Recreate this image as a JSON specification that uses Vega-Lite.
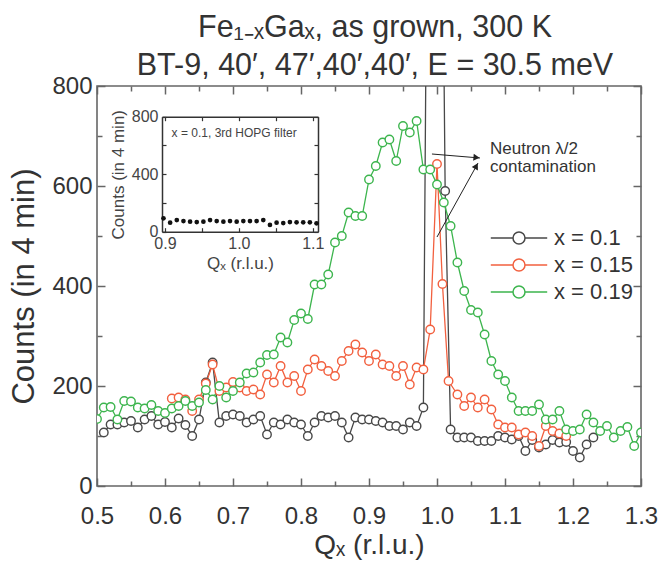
{
  "$schema": "https://vega.github.io/schema/vega-lite/v6.json",
  "width": 544,
  "height": 400,
  "autosize": {"type": "none"},
  "padding": {"left": 97, "top": 86, "right": 19, "bottom": 75},
  "background": "white",
  "config": {
    "view": {"stroke": "#666", "strokeWidth": 1.6},
    "font": "Liberation Sans",
    "axis": {"grid": false, "labelColor": "#333", "titleColor": "#333", "titleFontWeight": "normal", "tickColor": "#666", "domainColor": "#666", "labelFont": "Liberation Sans", "titleFont": "Liberation Sans"}
  },
  "title": {
    "text": ["Fe₁₋ₓGaₓ, as grown, 300 K", "BT-9, 40′, 47′,40′,40′, E = 30.5 meV"],
    "fontSize": 30.5,
    "fontWeight": "normal",
    "font": "Liberation Sans",
    "color": "#333",
    "anchor": "middle",
    "dx": 6,
    "offset": -7,
    "lineHeight": 38
  },
  "datasets": {
    "main": [
      {"q": 0.51, "c": 107, "s": "x = 0.1"}, {"q": 0.52, "c": 123, "s": "x = 0.1"}, {"q": 0.53, "c": 123, "s": "x = 0.1"}, {"q": 0.54, "c": 127, "s": "x = 0.1"}, {"q": 0.55, "c": 130, "s": "x = 0.1"}, {"q": 0.56, "c": 117, "s": "x = 0.1"}, {"q": 0.57, "c": 133, "s": "x = 0.1"}, {"q": 0.58, "c": 140, "s": "x = 0.1"}, {"q": 0.59, "c": 123, "s": "x = 0.1"}, {"q": 0.60, "c": 128, "s": "x = 0.1"},
      {"q": 0.61, "c": 117, "s": "x = 0.1"}, {"q": 0.62, "c": 135, "s": "x = 0.1"}, {"q": 0.63, "c": 122, "s": "x = 0.1"}, {"q": 0.64, "c": 100, "s": "x = 0.1"}, {"q": 0.65, "c": 133, "s": "x = 0.1"}, {"q": 0.66, "c": 207, "s": "x = 0.1"}, {"q": 0.67, "c": 247, "s": "x = 0.1"}, {"q": 0.68, "c": 127, "s": "x = 0.1"}, {"q": 0.69, "c": 140, "s": "x = 0.1"}, {"q": 0.70, "c": 143, "s": "x = 0.1"},
      {"q": 0.71, "c": 140, "s": "x = 0.1"}, {"q": 0.72, "c": 127, "s": "x = 0.1"}, {"q": 0.73, "c": 133, "s": "x = 0.1"}, {"q": 0.74, "c": 140, "s": "x = 0.1"}, {"q": 0.75, "c": 103, "s": "x = 0.1"}, {"q": 0.76, "c": 127, "s": "x = 0.1"}, {"q": 0.77, "c": 123, "s": "x = 0.1"}, {"q": 0.78, "c": 133, "s": "x = 0.1"}, {"q": 0.79, "c": 127, "s": "x = 0.1"}, {"q": 0.80, "c": 123, "s": "x = 0.1"},
      {"q": 0.81, "c": 100, "s": "x = 0.1"}, {"q": 0.82, "c": 127, "s": "x = 0.1"}, {"q": 0.83, "c": 140, "s": "x = 0.1"}, {"q": 0.84, "c": 137, "s": "x = 0.1"}, {"q": 0.85, "c": 140, "s": "x = 0.1"}, {"q": 0.86, "c": 127, "s": "x = 0.1"}, {"q": 0.87, "c": 97, "s": "x = 0.1"}, {"q": 0.88, "c": 137, "s": "x = 0.1"}, {"q": 0.89, "c": 133, "s": "x = 0.1"}, {"q": 0.90, "c": 133, "s": "x = 0.1"},
      {"q": 0.91, "c": 130, "s": "x = 0.1"}, {"q": 0.92, "c": 127, "s": "x = 0.1"}, {"q": 0.93, "c": 120, "s": "x = 0.1"}, {"q": 0.94, "c": 120, "s": "x = 0.1"}, {"q": 0.95, "c": 113, "s": "x = 0.1"}, {"q": 0.96, "c": 127, "s": "x = 0.1"}, {"q": 0.97, "c": 120, "s": "x = 0.1"}, {"q": 0.98, "c": 157, "s": "x = 0.1"}, {"q": 0.995, "c": 3000, "s": "x = 0.1"}, {"q": 1.012, "c": 590, "s": "x = 0.1"},
      {"q": 1.02, "c": 113, "s": "x = 0.1"}, {"q": 1.03, "c": 97, "s": "x = 0.1"}, {"q": 1.04, "c": 97, "s": "x = 0.1"}, {"q": 1.05, "c": 97, "s": "x = 0.1"}, {"q": 1.06, "c": 90, "s": "x = 0.1"}, {"q": 1.07, "c": 90, "s": "x = 0.1"}, {"q": 1.08, "c": 90, "s": "x = 0.1"}, {"q": 1.09, "c": 100, "s": "x = 0.1"}, {"q": 1.10, "c": 97, "s": "x = 0.1"}, {"q": 1.11, "c": 93, "s": "x = 0.1"},
      {"q": 1.12, "c": 100, "s": "x = 0.1"}, {"q": 1.13, "c": 70, "s": "x = 0.1"}, {"q": 1.14, "c": 92, "s": "x = 0.1"}, {"q": 1.15, "c": 77, "s": "x = 0.1"}, {"q": 1.16, "c": 83, "s": "x = 0.1"}, {"q": 1.17, "c": 92, "s": "x = 0.1"}, {"q": 1.18, "c": 87, "s": "x = 0.1"}, {"q": 1.19, "c": 88, "s": "x = 0.1"}, {"q": 1.20, "c": 70, "s": "x = 0.1"}, {"q": 1.21, "c": 57, "s": "x = 0.1"}, {"q": 1.22, "c": 83, "s": "x = 0.1"}, {"q": 1.23, "c": 97, "s": "x = 0.1"},

      {"q": 0.61, "c": 175, "s": "x = 0.15"}, {"q": 0.62, "c": 177, "s": "x = 0.15"}, {"q": 0.63, "c": 173, "s": "x = 0.15"}, {"q": 0.64, "c": 150, "s": "x = 0.15"}, {"q": 0.65, "c": 173, "s": "x = 0.15"}, {"q": 0.66, "c": 205, "s": "x = 0.15"}, {"q": 0.67, "c": 243, "s": "x = 0.15"}, {"q": 0.68, "c": 190, "s": "x = 0.15"}, {"q": 0.69, "c": 197, "s": "x = 0.15"}, {"q": 0.70, "c": 208, "s": "x = 0.15"},
      {"q": 0.71, "c": 197, "s": "x = 0.15"}, {"q": 0.72, "c": 190, "s": "x = 0.15"}, {"q": 0.73, "c": 193, "s": "x = 0.15"}, {"q": 0.74, "c": 183, "s": "x = 0.15"}, {"q": 0.75, "c": 223, "s": "x = 0.15"}, {"q": 0.76, "c": 207, "s": "x = 0.15"}, {"q": 0.77, "c": 240, "s": "x = 0.15"}, {"q": 0.78, "c": 207, "s": "x = 0.15"}, {"q": 0.79, "c": 220, "s": "x = 0.15"}, {"q": 0.80, "c": 190, "s": "x = 0.15"},
      {"q": 0.81, "c": 233, "s": "x = 0.15"}, {"q": 0.82, "c": 253, "s": "x = 0.15"}, {"q": 0.83, "c": 240, "s": "x = 0.15"}, {"q": 0.84, "c": 230, "s": "x = 0.15"}, {"q": 0.85, "c": 220, "s": "x = 0.15"}, {"q": 0.86, "c": 250, "s": "x = 0.15"}, {"q": 0.87, "c": 270, "s": "x = 0.15"}, {"q": 0.88, "c": 283, "s": "x = 0.15"}, {"q": 0.89, "c": 267, "s": "x = 0.15"}, {"q": 0.90, "c": 250, "s": "x = 0.15"},
      {"q": 0.91, "c": 263, "s": "x = 0.15"}, {"q": 0.92, "c": 243, "s": "x = 0.15"}, {"q": 0.93, "c": 240, "s": "x = 0.15"}, {"q": 0.94, "c": 220, "s": "x = 0.15"}, {"q": 0.95, "c": 240, "s": "x = 0.15"}, {"q": 0.96, "c": 203, "s": "x = 0.15"}, {"q": 0.97, "c": 237, "s": "x = 0.15"}, {"q": 0.98, "c": 233, "s": "x = 0.15"}, {"q": 0.99, "c": 313, "s": "x = 0.15"}, {"q": 1.00, "c": 644, "s": "x = 0.15"},
      {"q": 1.008, "c": 404, "s": "x = 0.15"}, {"q": 1.017, "c": 210, "s": "x = 0.15"}, {"q": 1.03, "c": 183, "s": "x = 0.15"}, {"q": 1.04, "c": 160, "s": "x = 0.15"}, {"q": 1.05, "c": 177, "s": "x = 0.15"}, {"q": 1.06, "c": 157, "s": "x = 0.15"}, {"q": 1.07, "c": 173, "s": "x = 0.15"}, {"q": 1.08, "c": 153, "s": "x = 0.15"}, {"q": 1.09, "c": 123, "s": "x = 0.15"}, {"q": 1.10, "c": 117, "s": "x = 0.15"},
      {"q": 1.11, "c": 117, "s": "x = 0.15"}, {"q": 1.12, "c": 103, "s": "x = 0.15"}, {"q": 1.13, "c": 107, "s": "x = 0.15"}, {"q": 1.14, "c": 100, "s": "x = 0.15"}, {"q": 1.15, "c": 80, "s": "x = 0.15"}, {"q": 1.16, "c": 120, "s": "x = 0.15"}, {"q": 1.17, "c": 110, "s": "x = 0.15"}, {"q": 1.18, "c": 105, "s": "x = 0.15"}, {"q": 1.19, "c": 100, "s": "x = 0.15"},

      {"q": 0.50, "c": 134, "s": "x = 0.19"}, {"q": 0.51, "c": 157, "s": "x = 0.19"}, {"q": 0.52, "c": 158, "s": "x = 0.19"}, {"q": 0.53, "c": 133, "s": "x = 0.19"}, {"q": 0.54, "c": 170, "s": "x = 0.19"}, {"q": 0.55, "c": 169, "s": "x = 0.19"}, {"q": 0.56, "c": 157, "s": "x = 0.19"}, {"q": 0.57, "c": 155, "s": "x = 0.19"}, {"q": 0.58, "c": 162, "s": "x = 0.19"}, {"q": 0.59, "c": 150, "s": "x = 0.19"},
      {"q": 0.60, "c": 146, "s": "x = 0.19"}, {"q": 0.61, "c": 155, "s": "x = 0.19"}, {"q": 0.62, "c": 160, "s": "x = 0.19"}, {"q": 0.63, "c": 170, "s": "x = 0.19"}, {"q": 0.64, "c": 160, "s": "x = 0.19"}, {"q": 0.65, "c": 167, "s": "x = 0.19"}, {"q": 0.66, "c": 192, "s": "x = 0.19"}, {"q": 0.67, "c": 173, "s": "x = 0.19"}, {"q": 0.68, "c": 200, "s": "x = 0.19"}, {"q": 0.69, "c": 177, "s": "x = 0.19"},
      {"q": 0.70, "c": 190, "s": "x = 0.19"}, {"q": 0.71, "c": 207, "s": "x = 0.19"}, {"q": 0.72, "c": 225, "s": "x = 0.19"}, {"q": 0.73, "c": 227, "s": "x = 0.19"}, {"q": 0.74, "c": 247, "s": "x = 0.19"}, {"q": 0.75, "c": 262, "s": "x = 0.19"}, {"q": 0.76, "c": 263, "s": "x = 0.19"}, {"q": 0.77, "c": 297, "s": "x = 0.19"}, {"q": 0.78, "c": 287, "s": "x = 0.19"}, {"q": 0.79, "c": 332, "s": "x = 0.19"},
      {"q": 0.80, "c": 345, "s": "x = 0.19"}, {"q": 0.81, "c": 334, "s": "x = 0.19"}, {"q": 0.82, "c": 403, "s": "x = 0.19"}, {"q": 0.83, "c": 403, "s": "x = 0.19"}, {"q": 0.84, "c": 423, "s": "x = 0.19"}, {"q": 0.85, "c": 487, "s": "x = 0.19"}, {"q": 0.86, "c": 500, "s": "x = 0.19"}, {"q": 0.87, "c": 547, "s": "x = 0.19"}, {"q": 0.88, "c": 540, "s": "x = 0.19"}, {"q": 0.89, "c": 540, "s": "x = 0.19"},
      {"q": 0.90, "c": 613, "s": "x = 0.19"}, {"q": 0.91, "c": 640, "s": "x = 0.19"}, {"q": 0.92, "c": 687, "s": "x = 0.19"}, {"q": 0.93, "c": 693, "s": "x = 0.19"}, {"q": 0.94, "c": 650, "s": "x = 0.19"}, {"q": 0.95, "c": 720, "s": "x = 0.19"}, {"q": 0.96, "c": 707, "s": "x = 0.19"}, {"q": 0.97, "c": 730, "s": "x = 0.19"}, {"q": 0.98, "c": 633, "s": "x = 0.19"}, {"q": 0.99, "c": 633, "s": "x = 0.19"},
      {"q": 1.00, "c": 603, "s": "x = 0.19"}, {"q": 1.01, "c": 567, "s": "x = 0.19"}, {"q": 1.02, "c": 520, "s": "x = 0.19"}, {"q": 1.03, "c": 447, "s": "x = 0.19"}, {"q": 1.04, "c": 390, "s": "x = 0.19"}, {"q": 1.05, "c": 352, "s": "x = 0.19"}, {"q": 1.06, "c": 347, "s": "x = 0.19"}, {"q": 1.07, "c": 303, "s": "x = 0.19"}, {"q": 1.08, "c": 250, "s": "x = 0.19"}, {"q": 1.09, "c": 223, "s": "x = 0.19"},
      {"q": 1.10, "c": 210, "s": "x = 0.19"}, {"q": 1.11, "c": 177, "s": "x = 0.19"}, {"q": 1.12, "c": 150, "s": "x = 0.19"}, {"q": 1.13, "c": 150, "s": "x = 0.19"}, {"q": 1.14, "c": 150, "s": "x = 0.19"}, {"q": 1.15, "c": 163, "s": "x = 0.19"}, {"q": 1.16, "c": 133, "s": "x = 0.19"}, {"q": 1.17, "c": 133, "s": "x = 0.19"}, {"q": 1.18, "c": 150, "s": "x = 0.19"}, {"q": 1.19, "c": 113, "s": "x = 0.19"},
      {"q": 1.20, "c": 110, "s": "x = 0.19"}, {"q": 1.21, "c": 113, "s": "x = 0.19"}, {"q": 1.22, "c": 143, "s": "x = 0.19"}, {"q": 1.23, "c": 127, "s": "x = 0.19"}, {"q": 1.24, "c": 110, "s": "x = 0.19"}, {"q": 1.25, "c": 120, "s": "x = 0.19"}, {"q": 1.26, "c": 97, "s": "x = 0.19"}, {"q": 1.27, "c": 110, "s": "x = 0.19"}, {"q": 1.28, "c": 118, "s": "x = 0.19"}, {"q": 1.29, "c": 80, "s": "x = 0.19"}, {"q": 1.30, "c": 107, "s": "x = 0.19"}
    ],
    "inset": [
      {"q": 0.898, "c": 93}, {"q": 0.907, "c": 63}, {"q": 0.916, "c": 81}, {"q": 0.925, "c": 74}, {"q": 0.934, "c": 70}, {"q": 0.943, "c": 67}, {"q": 0.952, "c": 70}, {"q": 0.961, "c": 81},
      {"q": 0.970, "c": 74}, {"q": 0.979, "c": 70}, {"q": 0.988, "c": 74}, {"q": 0.997, "c": 70}, {"q": 1.006, "c": 74}, {"q": 1.015, "c": 74}, {"q": 1.024, "c": 74}, {"q": 1.033, "c": 81},
      {"q": 1.042, "c": 47}, {"q": 1.051, "c": 63}, {"q": 1.060, "c": 60}, {"q": 1.069, "c": 67}, {"q": 1.078, "c": 65}, {"q": 1.087, "c": 65}, {"q": 1.096, "c": 65}, {"q": 1.105, "c": 58}
    ],
    "note": [{"q": 1.078, "c": 664, "t": "Neutron λ/2\ncontamination"}],
    "arrows": [{"q": 0.9926, "c": 664, "q2": 1.0632, "c2": 656}, {"q": 1.0, "c": 498, "q2": 1.0603, "c2": 646}],
    "head1": [{"q": 1.0581, "c": 657}],
    "head2": [{"q": 1.0578, "c": 640}],
    "insetnote": [{"q": 0.909, "c": 659, "t": "x = 0.1, 3rd HOPG filter"}]
  },
  "resolve": {"scale": {"x": "independent", "y": "independent"}, "axis": {"x": "independent", "y": "independent"}},
  "layer": [
    {
      "data": {"name": "main"},
      "mark": {"type": "line", "clip": true, "strokeWidth": 1.3},
      "encoding": {
        "x": {"field": "q", "type": "quantitative", "scale": {"domain": [0.5, 1.3], "nice": false, "zero": false},
          "axis": {"orient": "bottom", "values": [0.5, 0.6, 0.7, 0.8, 0.9, 1.0, 1.1, 1.2, 1.3], "format": ".1f", "ticks": false, "tickSize": 0, "domain": false, "labelFontSize": 24, "labelPadding": 18, "labelFlush": false, "labelOverlap": false, "title": "Qₓ  (r.l.u.)", "titleFontSize": 28, "titlePadding": 3}},
        "y": {"field": "c", "type": "quantitative", "scale": {"domain": [0, 800], "nice": false, "zero": false},
          "axis": {"orient": "left", "values": [0, 200, 400, 600, 800], "ticks": false, "tickSize": 0, "domain": false, "labelFontSize": 24, "labelPadding": 5, "labelFlush": false, "labelOverlap": false, "title": "Counts (in 4 min)", "titleFontSize": 31, "titlePadding": 11}},
        "color": {"field": "s", "type": "nominal",
          "scale": {"domain": ["x = 0.1", "x = 0.15", "x = 0.19"], "range": ["#484848", "#f2603f", "#3db54e"]},
          "legend": {"orient": "none", "legendX": 411, "legendY": 141, "title": null, "labelFontSize": 22, "labelColor": "#333", "labelFont": "Liberation Sans",
            "symbolType": "M-4.7,0L-1,0A1,1,0,0,0,1,0L4.7,0M1,0A1,1,0,0,0,-1,0", "symbolSize": 144, "symbolStrokeWidth": 1.5, "labelOffset": 24, "rowPadding": 5, "padding": 0}}
      }
    },
    {
      "data": {"name": "main"},
      "mark": {"type": "point", "shape": "circle", "filled": false, "fill": "white", "strokeWidth": 1.4, "size": 72, "opacity": 1, "clip": true},
      "encoding": {
        "x": {"field": "q", "type": "quantitative", "scale": {"domain": [0.5, 1.3], "nice": false, "zero": false},
          "axis": {"orient": "bottom", "values": [0.5, 0.6, 0.7, 0.8, 0.9, 1.0, 1.1, 1.2, 1.3], "labels": false, "domain": false, "tickSize": -8, "tickWidth": 1.5, "title": null}},
        "y": {"field": "c", "type": "quantitative", "scale": {"domain": [0, 800], "nice": false, "zero": false},
          "axis": {"orient": "left", "values": [0, 200, 400, 600, 800], "labels": false, "domain": false, "tickSize": -8, "tickWidth": 1.5, "title": null}},
        "color": {"field": "s", "type": "nominal",
          "scale": {"domain": ["x = 0.1", "x = 0.15", "x = 0.19"], "range": ["#484848", "#f2603f", "#3db54e"]},
          "legend": {"orient": "none", "legendX": 411, "legendY": 141, "title": null, "labelFontSize": 22, "labelColor": "#333", "labelFont": "Liberation Sans",
            "symbolType": "M-4.7,0L-1,0A1,1,0,0,0,1,0L4.7,0M1,0A1,1,0,0,0,-1,0", "symbolSize": 144, "symbolStrokeWidth": 1.5, "labelOffset": 24, "rowPadding": 5, "padding": 0}}
      }
    },
    {
      "data": {"name": "note"},
      "mark": {"type": "text", "align": "left", "baseline": "alphabetic", "fontSize": 17, "lineBreak": "\n", "lineHeight": 18, "color": "#333", "font": "Liberation Sans"},
      "encoding": {
        "x": {"field": "q", "type": "quantitative", "scale": {"domain": [0.5, 1.3], "nice": false, "zero": false},
          "axis": {"orient": "bottom", "values": [0.55, 0.65, 0.75, 0.85, 0.95, 1.05, 1.15, 1.25], "labels": false, "domain": false, "tickSize": -5, "tickWidth": 1.5, "title": null}},
        "y": {"field": "c", "type": "quantitative", "scale": {"domain": [0, 800], "nice": false, "zero": false},
          "axis": {"orient": "left", "values": [100, 300, 500, 700], "labels": false, "domain": false, "tickSize": -5, "tickWidth": 1.5, "title": null}},
        "text": {"field": "t"}
      }
    },
    {
      "data": {"name": "arrows"},
      "mark": {"type": "rule", "color": "#222", "strokeWidth": 1},
      "encoding": {
        "x": {"field": "q", "type": "quantitative", "scale": {"domain": [0.5, 1.3], "nice": false, "zero": false},
          "axis": {"orient": "top", "values": [0.5, 0.6, 0.7, 0.8, 0.9, 1.0, 1.1, 1.2, 1.3], "labels": false, "domain": false, "tickSize": -8, "tickWidth": 1.5, "title": null}},
        "y": {"field": "c", "type": "quantitative", "scale": {"domain": [0, 800], "nice": false, "zero": false},
          "axis": {"orient": "right", "values": [0, 200, 400, 600, 800], "labels": false, "domain": false, "tickSize": -8, "tickWidth": 1.5, "title": null}},
        "x2": {"field": "q2"},
        "y2": {"field": "c2"}
      }
    },
    {
      "data": {"name": "head1"},
      "mark": {"type": "point", "shape": "triangle-right", "filled": true, "size": 50, "angle": 5, "color": "#222", "opacity": 1},
      "encoding": {
        "x": {"field": "q", "type": "quantitative", "scale": {"domain": [0.5, 1.3], "nice": false, "zero": false},
          "axis": {"orient": "top", "values": [0.55, 0.65, 0.75, 0.85, 0.95, 1.05, 1.15, 1.25], "labels": false, "domain": false, "tickSize": -5, "tickWidth": 1.5, "title": null}},
        "y": {"field": "c", "type": "quantitative", "scale": {"domain": [0, 800], "nice": false, "zero": false},
          "axis": {"orient": "right", "values": [100, 300, 500, 700], "labels": false, "domain": false, "tickSize": -5, "tickWidth": 1.5, "title": null}}
      }
    },
    {
      "data": {"name": "head2"},
      "mark": {"type": "point", "shape": "triangle-right", "filled": true, "size": 50, "angle": -61, "color": "#222", "opacity": 1},
      "encoding": {
        "x": {"field": "q", "type": "quantitative", "scale": {"domain": [0.5, 1.3], "nice": false, "zero": false}, "axis": null},
        "y": {"field": "c", "type": "quantitative", "scale": {"domain": [0, 800], "nice": false, "zero": false}, "axis": null}
      }
    },
    {
      "data": {"name": "inset"},
      "mark": {"type": "point", "shape": "circle", "filled": true, "size": 22, "color": "#111", "opacity": 1},
      "encoding": {
        "x": {"field": "q", "type": "quantitative", "scale": {"domain": [0.896, 1.107], "range": [65, 221], "nice": false, "zero": false},
          "axis": {"orient": "bottom", "offset": -254.3, "values": [0.9, 0.95, 1.0, 1.05, 1.1], "labelExpr": "abs(datum.value - 0.95) < 0.001 || abs(datum.value - 1.05) < 0.001 ? '' : format(datum.value, '.1f')", "labelFontSize": 16, "labelColor": "#444", "labelPadding": 8, "labelFlush": false, "labelOverlap": false, "tickSize": -4, "tickWidth": 1.2, "tickColor": "#333", "domain": true, "domainColor": "#333", "domainWidth": 1.5, "title": "Qₓ  (r.l.u.)", "titleFontSize": 17, "titleColor": "#444", "titlePadding": 4}},
        "y": {"field": "c", "type": "quantitative", "scale": {"domain": [0, 800], "range": [145.7, 30.7], "nice": false, "zero": false},
          "axis": {"orient": "left", "offset": -65, "values": [0, 200, 400, 600, 800], "labelExpr": "datum.value % 400 == 0 ? datum.label : ''", "labelFontSize": 16, "labelColor": "#444", "labelPadding": 8, "labelFlush": false, "labelOverlap": false, "tickSize": -4, "tickWidth": 1.2, "tickColor": "#333", "domain": true, "domainColor": "#333", "domainWidth": 1.5, "title": "Counts (in 4 min)", "titleFontSize": 17, "titleColor": "#444", "titlePadding": 4}}
      }
    },
    {
      "data": {"name": "insetnote"},
      "mark": {"type": "text", "align": "left", "baseline": "alphabetic", "fontSize": 12, "color": "#444", "font": "Liberation Sans"},
      "encoding": {
        "x": {"field": "q", "type": "quantitative", "scale": {"domain": [0.896, 1.107], "range": [65, 221], "nice": false, "zero": false},
          "axis": {"orient": "top", "offset": -30.7, "values": [0.9, 0.95, 1.0, 1.05, 1.1], "labels": false, "tickSize": -4, "tickWidth": 1.2, "tickColor": "#333", "domain": true, "domainColor": "#333", "domainWidth": 1.5, "title": null}},
        "y": {"field": "c", "type": "quantitative", "scale": {"domain": [0, 800], "range": [145.7, 30.7], "nice": false, "zero": false},
          "axis": {"orient": "right", "offset": -323, "values": [0, 200, 400, 600, 800], "labels": false, "tickSize": -4, "tickWidth": 1.2, "tickColor": "#333", "domain": true, "domainColor": "#333", "domainWidth": 1.5, "title": null}},
        "text": {"field": "t"}
      }
    }
  ]
}
